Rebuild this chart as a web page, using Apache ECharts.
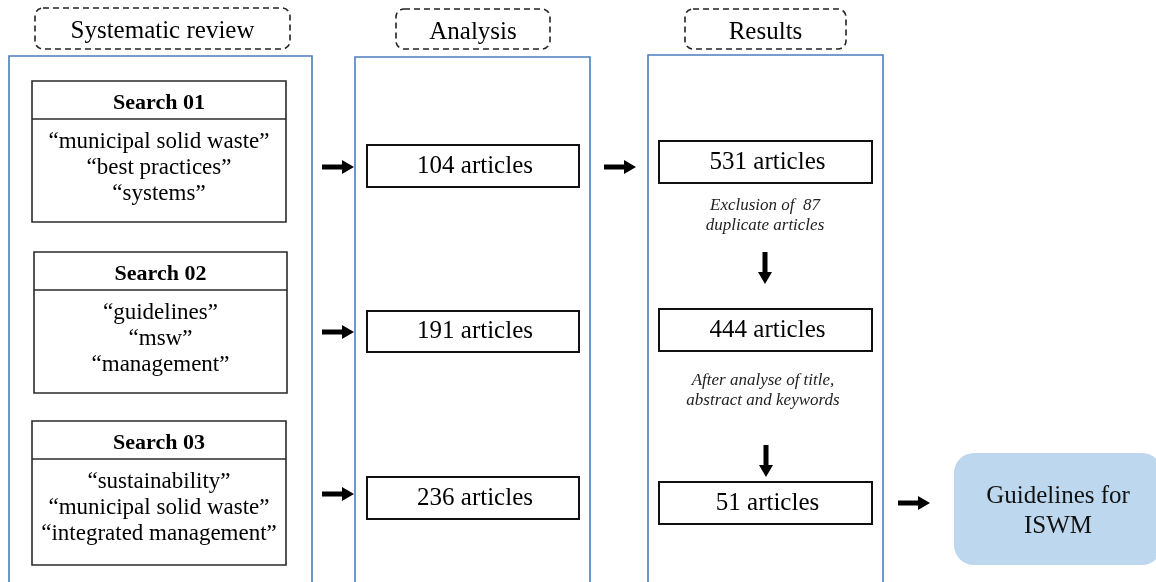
<!DOCTYPE html>
<html>
<head>
<meta charset="utf-8">
<script src="https://cdn.jsdelivr.net/npm/echarts@6/dist/echarts.min.js"></script>
<style>
  html, body { margin: 0; padding: 0; background: #fff; }
  #chart { width: 1156px; height: 582px; }
</style>
</head>
<body>
<div id="chart"></div>
<script>
// ---------- DATA ----------
const stageTitles = ['Systematic review', 'Analysis', 'Results'];
const searchTitles = ['Search 01', 'Search 02', 'Search 03'];
const searchTerms = [
  ['\u201Cmunicipal solid waste\u201D', '\u201Cbest practices\u201D', '\u201Csystems\u201D'],
  ['\u201Cguidelines\u201D', '\u201Cmsw\u201D', '\u201Cmanagement\u201D'],
  ['\u201Csustainability\u201D', '\u201Cmunicipal solid waste\u201D', '\u201Cintegrated management\u201D']
];
const analysisArticles = [104, 191, 236];
const resultArticles = [531, 444, 51];
const resultNotes = ['Exclusion of  87\nduplicate articles', 'After analyse of title,\nabstract and keywords'];
const outcomeLabel = 'Guidelines for\nISWM';

// ---------- LAYOUT (axis units) ----------
const stageBoxes = [[35, 8, 290, 49], [396, 9, 550, 49], [685, 9, 846, 49]];
const panels = [[9, 56, 312, 600], [355, 57, 590, 600], [648, 55, 883, 600]];
const searchBoxes = [[32, 81, 286, 222], [34, 252, 287, 393], [32, 421, 286, 565]];
const analysisBoxes = [[367, 145, 579, 187], [367, 311, 579, 352], [367, 477, 579, 519]];
const resultBoxes = [[659, 141, 872, 183], [659, 309, 872, 351], [659, 482, 872, 524]];
const noteCenters = [[765, 216], [763, 391]];
const rightArrows = [[322, 354, 167], [322, 354, 332], [322, 354, 494], [604, 636, 167], [898, 930, 503]];
const downArrows = [[765, 252, 284], [766, 445, 477]];
const outcomeBox = [954, 453, 1162, 565];

const SERIF = '"Liberation Serif", "Times New Roman", serif';

// ---------- build element list ----------
const elements = [];
stageTitles.forEach((t, i) => elements.push({ kind: 'stage', text: t, box: stageBoxes[i] }));
panels.forEach((b) => elements.push({ kind: 'panel', box: b }));
searchTitles.forEach((t, i) => elements.push({ kind: 'search', title: t, terms: searchTerms[i], box: searchBoxes[i] }));
analysisArticles.forEach((n, i) => elements.push({ kind: 'count', text: n + ' articles', box: analysisBoxes[i] }));
resultArticles.forEach((n, i) => elements.push({ kind: 'count', text: n + ' articles', box: resultBoxes[i] }));
resultNotes.forEach((t, i) => elements.push({ kind: 'note', text: t, at: noteCenters[i] }));
rightArrows.forEach((a) => elements.push({ kind: 'rarrow', a }));
downArrows.forEach((a) => elements.push({ kind: 'darrow', a }));
elements.push({ kind: 'outcome', text: outcomeLabel, box: outcomeBox });

function rectOf(api, b) {
  const p0 = api.coord([b[0], b[1]]);
  const p1 = api.coord([b[2], b[3]]);
  return { x: p0[0], y: p0[1], width: p1[0] - p0[0], height: p1[1] - p0[1] };
}
function textEl(x, y, text, font, extra) {
  return {
    type: 'text',
    style: Object.assign({ text, x, y, align: 'center', verticalAlign: 'middle', font, fill: '#000' }, extra || {})
  };
}

function renderItem(params, api) {
  const e = elements[params.dataIndex];
  const children = [];
  if (e.kind === 'stage') {
    const r = rectOf(api, e.box);
    children.push({ type: 'rect', shape: Object.assign({ r: 8 }, r),
      style: { fill: 'none', stroke: '#222', lineWidth: 1.6, lineDash: [6, 4] } });
    children.push(textEl(r.x + r.width / 2, r.y + 23, e.text, '25px ' + SERIF));
  } else if (e.kind === 'panel') {
    const r = rectOf(api, e.box);
    children.push({ type: 'rect', shape: r, style: { fill: 'none', stroke: '#4a7ebb', lineWidth: 1.6 } });
  } else if (e.kind === 'search') {
    const r = rectOf(api, e.box);
    children.push({ type: 'rect', shape: r, style: { fill: 'none', stroke: '#2a2a2a', lineWidth: 1.6 } });
    children.push({ type: 'line', shape: { x1: r.x, y1: r.y + 38, x2: r.x + r.width, y2: r.y + 38 },
      style: { stroke: '#2a2a2a', lineWidth: 1.6 } });
    const cx = r.x + r.width / 2;
    children.push(textEl(cx, r.y + 22, e.title, 'bold 22px ' + SERIF));
    e.terms.forEach((t, k) => children.push(textEl(cx, r.y + 61 + 26 * k, t, '23px ' + SERIF)));
  } else if (e.kind === 'count') {
    const r = rectOf(api, e.box);
    children.push({ type: 'rect', shape: r, style: { fill: '#fff', stroke: '#111', lineWidth: 2 } });
    children.push(textEl(r.x + r.width / 2 + 2, r.y + r.height / 2, e.text, '25px ' + SERIF));
  } else if (e.kind === 'note') {
    const p = api.coord(e.at);
    children.push(textEl(p[0], p[1], e.text, 'italic 17px ' + SERIF, { lineHeight: 20, fill: '#222' }));
  } else if (e.kind === 'rarrow') {
    const p0 = api.coord([e.a[0], e.a[2]]);
    const p1 = api.coord([e.a[1], e.a[2]]);
    const y = p0[1], t = 2.5, h = 12, w = 7;
    children.push({ type: 'polygon', shape: { points: [
      [p0[0], y - t], [p1[0] - h, y - t], [p1[0] - h, y - w], [p1[0], y],
      [p1[0] - h, y + w], [p1[0] - h, y + t], [p0[0], y + t]] },
      style: { fill: '#000' } });
  } else if (e.kind === 'darrow') {
    const p0 = api.coord([e.a[0], e.a[1]]);
    const p1 = api.coord([e.a[0], e.a[2]]);
    const x = p0[0], t = 2.5, h = 12, w = 7;
    children.push({ type: 'polygon', shape: { points: [
      [x - t, p0[1]], [x - t, p1[1] - h], [x - w, p1[1] - h], [x, p1[1]],
      [x + w, p1[1] - h], [x + t, p1[1] - h], [x + t, p0[1]]] },
      style: { fill: '#000' } });
  } else if (e.kind === 'outcome') {
    const r = rectOf(api, e.box);
    children.push({ type: 'rect', shape: Object.assign({ r: 20 }, r), style: { fill: '#bdd7ee', stroke: 'none' } });
    children.push(textEl(1058, r.y + r.height / 2 + 2.5, e.text, '25px ' + SERIF, { lineHeight: 30, fill: '#111' }));
  }
  return { type: 'group', children };
}

const chart = echarts.init(document.getElementById('chart'), null, { renderer: 'canvas' });
chart.setOption({
  animation: false,
  backgroundColor: '#fff',
  grid: { left: 0, right: 0, top: 0, bottom: 0 },
  xAxis: { type: 'value', min: 0, max: 1156, show: false },
  yAxis: { type: 'value', min: 0, max: 582, inverse: true, show: false },
  series: [{
    type: 'custom',
    coordinateSystem: 'cartesian2d',
    renderItem,
    clip: false,
    silent: true,
    data: elements.map((_, i) => [i, 0])
  }]
});
</script>
</body>
</html>
